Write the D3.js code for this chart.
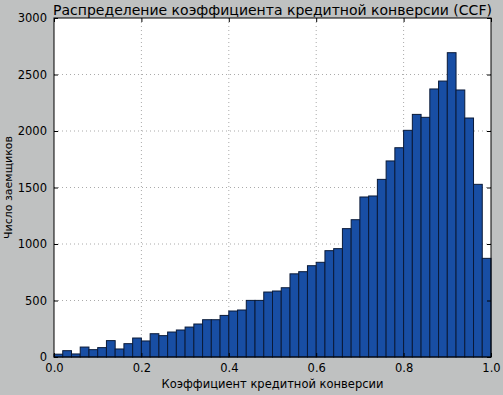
<!DOCTYPE html>
<html><head><meta charset="utf-8">
<script src="https://cdn.jsdelivr.net/npm/d3@7"></script>
<style>
html,body{margin:0;padding:0;background:#bfc1c1;}
svg{display:block;font-family:"DejaVu Sans",sans-serif;}
</style></head><body>
<svg id="c" width="503" height="395"></svg>
<script>
const binStart = 0, binEnd = 1, binCount = 50;
const counts = [25,56,27,88,65,83,145,71,118,168,142,206,189,221,239,265,292,330,330,368,
  407,416,501,501,575,584,613,736,755,808,838,941,959,1136,1215,1416,1425,1572,1735,1852,
  2006,2147,2121,2372,2442,2693,2363,2115,1528,873];
const xTicks = [0,0.2,0.4,0.6,0.8,1.0];
const yTicks = [0,500,1000,1500,2000,2500,3000];
const title = "Распределение коэффициента кредитной конверсии (CCF)";
const xLabel = "Коэффициент кредитной конверсии";
const yLabel = "Число заемщиков";

const m = {l:54, t:18, r:491, b:357};
const svg = d3.select("#c");
const x = d3.scaleLinear().domain([binStart,binEnd]).range([m.l,m.r]);
const y = d3.scaleLinear().domain([0,3000]).range([m.b,m.t]);
const bw = (binEnd-binStart)/binCount;
const bins = counts.map((c,i)=>({x0:binStart+i*bw, x1:binStart+(i+1)*bw, c}));

svg.append("rect").attr("x",m.l).attr("y",m.t).attr("width",m.r-m.l).attr("height",m.b-m.t).attr("fill","#fff");

// grid
const g = svg.append("g");
g.selectAll(".gx").data(xTicks.slice(1,-1)).join("line")
  .attr("x1",d=>x(d)).attr("x2",d=>x(d)).attr("y1",m.t).attr("y2",m.b)
  .attr("stroke","#aaa").attr("stroke-dasharray","1,3").attr("stroke-width",1);
g.selectAll(".gy").data(yTicks.slice(1,-1)).join("line")
  .attr("y1",d=>y(d)).attr("y2",d=>y(d)).attr("x1",m.l).attr("x2",m.r)
  .attr("stroke","#aaa").attr("stroke-dasharray","1,3").attr("stroke-width",1);

// bars
svg.append("g").selectAll("rect").data(bins).join("rect")
  .attr("x",d=>x(d.x0)).attr("width",d=>x(d.x1)-x(d.x0))
  .attr("y",d=>y(d.c)).attr("height",d=>y(0)-y(d.c))
  .attr("fill","#184ea4").attr("stroke","#0a1a38").attr("stroke-width",1);

// axes with inward ticks
const fmtX = d3.format(".1f");
const ax = svg.append("g").attr("transform",`translate(0,${m.b})`)
  .call(d3.axisBottom(x).tickValues(xTicks).tickFormat(fmtX).tickSizeInner(-4).tickSizeOuter(0).tickPadding(7));
const axT = svg.append("g").attr("transform",`translate(0,${m.t})`)
  .call(d3.axisTop(x).tickValues(xTicks).tickFormat("").tickSizeInner(-4).tickSizeOuter(0));
const ay = svg.append("g").attr("transform",`translate(${m.l},0)`)
  .call(d3.axisLeft(y).tickValues(yTicks).tickFormat(d3.format("d")).tickSizeInner(-4).tickSizeOuter(0).tickPadding(7));
const ayR = svg.append("g").attr("transform",`translate(${m.r},0)`)
  .call(d3.axisRight(y).tickValues(yTicks).tickFormat("").tickSizeInner(-4).tickSizeOuter(0));
[ax,axT,ay,ayR].forEach(a=>{a.select(".domain").remove(); a.selectAll("line").attr("stroke","#000");
  a.selectAll("text").attr("font-size","11.5px").attr("fill","#000").attr("font-family","DejaVu Sans");});

svg.append("rect").attr("x",m.l).attr("y",m.t).attr("width",m.r-m.l).attr("height",m.b-m.t)
  .attr("fill","none").attr("stroke","#000").attr("stroke-width",1);

svg.append("text").attr("x",(m.l+m.r)/2).attr("y",15).attr("text-anchor","middle")
  .attr("font-size","14px").text(title);
svg.append("text").attr("x",(m.l+m.r)/2).attr("y",388).attr("text-anchor","middle")
  .attr("font-size","11.5px").text(xLabel);
svg.append("text").attr("transform",`translate(12,${(m.t+m.b)/2}) rotate(-90)`).attr("text-anchor","middle")
  .attr("font-size","11px").text(yLabel);
</script></body></html>
